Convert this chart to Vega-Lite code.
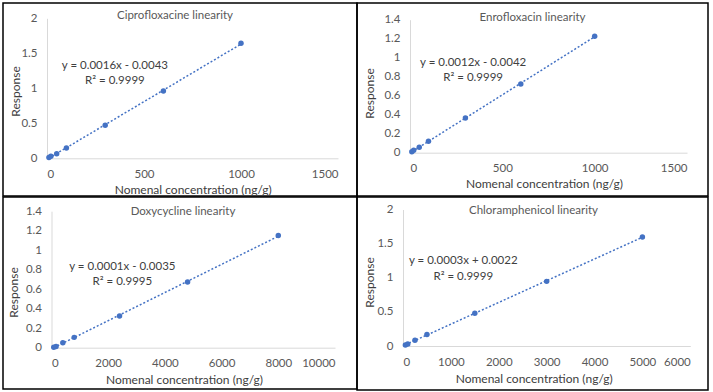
{
  "$schema": "https://vega.github.io/schema/vega-lite/v6.json",
  "padding": {"left": 2, "top": 2, "right": 0, "bottom": 0},
  "background": "white",
  "datasets": {
    "cipro": [
      {"conc": 10, "response": 0.012},
      {"conc": 20, "response": 0.028},
      {"conc": 50, "response": 0.066},
      {"conc": 100, "response": 0.147},
      {"conc": 300, "response": 0.471},
      {"conc": 600, "response": 0.961},
      {"conc": 1000, "response": 1.643}
    ],
    "enro": [
      {"conc": 10, "response": 0.009},
      {"conc": 20, "response": 0.025},
      {"conc": 50, "response": 0.058},
      {"conc": 100, "response": 0.12},
      {"conc": 300, "response": 0.365},
      {"conc": 600, "response": 0.724},
      {"conc": 1000, "response": 1.225}
    ],
    "doxy": [
      {"conc": 80, "response": 0.005},
      {"conc": 160, "response": 0.012},
      {"conc": 400, "response": 0.051},
      {"conc": 800, "response": 0.106},
      {"conc": 2400, "response": 0.325},
      {"conc": 4800, "response": 0.673},
      {"conc": 8000, "response": 1.151}
    ],
    "chloro": [
      {"conc": 50, "response": 0.015},
      {"conc": 100, "response": 0.03},
      {"conc": 250, "response": 0.083},
      {"conc": 500, "response": 0.17},
      {"conc": 1500, "response": 0.481},
      {"conc": 3000, "response": 0.947},
      {"conc": 5000, "response": 1.598}
    ]
  },
  "config": {
    "view": {"stroke": "black", "strokeWidth": 1.5},
    "axis": {
      "grid": false, "ticks": false, "tickSize": 0,
      "domainColor": "#d9d9d9", "domainWidth": 1,
      "labelFont": "Lato", "labelFontSize": 11.5, "labelColor": "#595959",
      "labelPadding": 10, "format": "~r",
      "titleFont": "Lato", "titleFontSize": 12, "titleFontWeight": "normal", "titleColor": "#404040",
      "titleBaseline": "middle", "labelOverlap": false
    },
    "title": {"font": "Lato", "fontSize": 11.5, "fontWeight": "normal", "color": "#595959", "anchor": "middle", "frame": "group", "baseline": "middle"},
    "text": {"font": "Lato", "fontSize": 11.5, "fontWeight": "normal", "color": "#404040", "align": "center", "baseline": "middle"}
  },
  "spacing": -3,
  "vconcat": [
    {
      "spacing": 0,
      "bounds": "flush",
      "hconcat": [
        {
          "width": 354, "height": 193,
          "title": {"text": "Ciprofloxacine linearity", "offset": -18, "dx": -5},
          "data": {"name": "cipro"},
          "encoding": {
            "x": {"field": "conc", "type": "quantitative",
                  "scale": {"domain": [0, 1500], "range": [44, 335]},
                  "axis": {"values": [0, 500, 1000, 1500], "offset": -37.7, "title": "Nomenal concentration (ng/g)", "titleX": 189.7, "titleY": 31}},
            "y": {"field": "response", "type": "quantitative",
                  "scale": {"domain": [0, 2], "range": [155.3, 15.3]},
                  "axis": {"values": [0, 0.5, 1, 1.5, 2], "offset": -44, "title": "Response", "titleX": -32, "titleY": 88}}
          },
          "layer": [
            {"transform": [{"regression": "response", "on": "conc"}],
             "mark": {"type": "line", "color": "#4472C4", "strokeDash": [2, 2], "strokeWidth": 1.5}},
            {"mark": {"type": "point", "filled": true, "size": 30, "color": "#4472C4", "opacity": 1}},
            {"transform": [{"filter": "datum.conc == 1000"}], "mark": {"type": "text", "text": "y = 0.0016x - 0.0043"},
             "encoding": {"x": {"datum": 350, "type": "quantitative"}, "y": {"datum": 1.32, "type": "quantitative"}}},
            {"transform": [{"filter": "datum.conc == 1000"}], "mark": {"type": "text", "text": "R² = 0.9999"},
             "encoding": {"x": {"datum": 350, "type": "quantitative"}, "y": {"datum": 1.1, "type": "quantitative"}}}
          ]
        },
        {
          "width": 351, "height": 193,
          "title": {"text": "Enrofloxacin linearity", "offset": -20.3, "dx": 0},
          "data": {"name": "enro"},
          "encoding": {
            "x": {"field": "conc", "type": "quantitative",
                  "scale": {"domain": [0, 1500], "range": [53, 330]},
                  "axis": {"values": [0, 500, 1000, 1500], "offset": -43.3, "title": "Nomenal concentration (ng/g)", "titleX": 187, "titleY": 31}},
            "y": {"field": "response", "type": "quantitative",
                  "scale": {"domain": [0, 1.4], "range": [149.7, 16.7]},
                  "axis": {"values": [0, 0.2, 0.4, 0.6, 0.8, 1, 1.2, 1.4], "offset": -53, "title": "Response", "titleX": -41, "titleY": 90}}
          },
          "layer": [
            {"transform": [{"regression": "response", "on": "conc"}],
             "mark": {"type": "line", "color": "#4472C4", "strokeDash": [2, 2], "strokeWidth": 1.5}},
            {"mark": {"type": "point", "filled": true, "size": 30, "color": "#4472C4", "opacity": 1}},
            {"transform": [{"filter": "datum.conc == 1000"}], "mark": {"type": "text", "text": "y = 0.0012x - 0.0042"},
             "encoding": {"x": {"datum": 342, "type": "quantitative"}, "y": {"datum": 0.947, "type": "quantitative"}}},
            {"transform": [{"filter": "datum.conc == 1000"}], "mark": {"type": "text", "text": "R² = 0.9999"},
             "encoding": {"x": {"datum": 342, "type": "quantitative"}, "y": {"datum": 0.789, "type": "quantitative"}}}
          ]
        }
      ]
    },
    {
      "spacing": 0,
      "bounds": "flush",
      "hconcat": [
        {
          "width": 354, "height": 192,
          "title": {"text": "Doxycycline linearity", "offset": -20.7, "dx": 3},
          "data": {"name": "doxy"},
          "encoding": {
            "x": {"field": "conc", "type": "quantitative",
                  "scale": {"domain": [0, 10000], "range": [48.5, 332]},
                  "axis": {"values": [0, 2000, 4000, 6000, 8000, 10000], "offset": -41.3, "title": "Nomenal concentration (ng/g)", "titleX": 181, "titleY": 32}},
            "y": {"field": "response", "type": "quantitative",
                  "scale": {"domain": [0, 1.4], "range": [150.7, 14.2]},
                  "axis": {"values": [0, 0.2, 0.4, 0.6, 0.8, 1, 1.2, 1.4], "offset": -48.5, "title": "Response", "titleX": -37.8, "titleY": 95}}
          },
          "layer": [
            {"transform": [{"regression": "response", "on": "conc"}],
             "mark": {"type": "line", "color": "#4472C4", "strokeDash": [2, 2], "strokeWidth": 1.5}},
            {"mark": {"type": "point", "filled": true, "size": 30, "color": "#4472C4", "opacity": 1}},
            {"transform": [{"filter": "datum.conc == 8000"}], "mark": {"type": "text", "text": "y = 0.0001x - 0.0035"},
             "encoding": {"x": {"datum": 2500, "type": "quantitative"}, "y": {"datum": 0.828, "type": "quantitative"}}},
            {"transform": [{"filter": "datum.conc == 8000"}], "mark": {"type": "text", "text": "R² = 0.9995"},
             "encoding": {"x": {"datum": 2500, "type": "quantitative"}, "y": {"datum": 0.674, "type": "quantitative"}}}
          ]
        },
        {
          "width": 351, "height": 193,
          "title": {"text": "Chloramphenicol linearity", "offset": -19, "dx": 1},
          "data": {"name": "chloro"},
          "encoding": {
            "x": {"field": "conc", "type": "quantitative",
                  "scale": {"domain": [0, 6000], "range": [46, 333.3]},
                  "axis": {"values": [0, 1000, 2000, 3000, 4000, 5000, 6000], "offset": -44, "title": "Nomenal concentration (ng/g)", "titleX": 176.7, "titleY": 32.7}},
            "y": {"field": "response", "type": "quantitative",
                  "scale": {"domain": [0, 2], "range": [149, 12.5]},
                  "axis": {"values": [0, 0.5, 1, 1.5, 2], "offset": -46, "title": "Response", "titleX": -33.3, "titleY": 85}}
          },
          "layer": [
            {"transform": [{"regression": "response", "on": "conc"}],
             "mark": {"type": "line", "color": "#4472C4", "strokeDash": [2, 2], "strokeWidth": 1.5}},
            {"mark": {"type": "point", "filled": true, "size": 30, "color": "#4472C4", "opacity": 1}},
            {"transform": [{"filter": "datum.conc == 5000"}], "mark": {"type": "text", "text": "y = 0.0003x + 0.0022"},
             "encoding": {"x": {"datum": 1259, "type": "quantitative"}, "y": {"datum": 1.242, "type": "quantitative"}}},
            {"transform": [{"filter": "datum.conc == 5000"}], "mark": {"type": "text", "text": "R² = 0.9999"},
             "encoding": {"x": {"datum": 1259, "type": "quantitative"}, "y": {"datum": 1.012, "type": "quantitative"}}}
          ]
        }
      ]
    }
  ]
}
